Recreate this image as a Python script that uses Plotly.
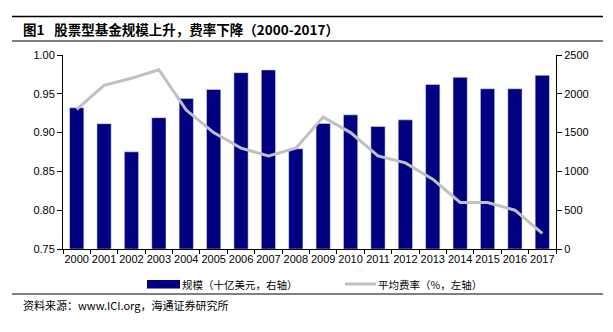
import plotly.graph_objects as go

years = [str(y) for y in range(2000, 2018)]
scale_bn = [1820, 1615, 1252, 1692, 1938, 2055, 2272, 2308, 1292, 1617, 1729, 1578, 1664, 2121, 2212, 2065, 2065, 2238]
fee_pct = [0.930, 0.961, 0.970, 0.981, 0.929, 0.900, 0.880, 0.870, 0.880, 0.920, 0.900, 0.870, 0.861, 0.840, 0.810, 0.810, 0.800, 0.770]
left_ticks = [0.75, 0.80, 0.85, 0.90, 0.95, 1.00]
right_ticks = [0, 500, 1000, 1500, 2000, 2500]

title_text = "图1\u2002 股票型基金规模上升，费率下降（2000-2017）"
bar_name = "规模（十亿美元，右轴）"
line_name = "平均费率（%，左轴）"
source_text = "资料来源：www.ICI.org，海通证券研究所"

W, H = 613, 332
L, R, T, B = 63, 57, 55, 83
pw, ph = W - L - R, H - T - B

def px(x):
    return (x - L) / pw

def py(y):
    return (H - B - y) / ph

BAR_C = "#000080"
LINE_C = "#C0C0C0"
FONT = "Liberation Sans, Noto Sans CJK SC, Arial, sans-serif"
CJK = "Noto Sans CJK SC, Liberation Sans, sans-serif"

fig = go.Figure()
fig.add_trace(go.Bar(x=years, y=scale_bn, marker_color=BAR_C, width=0.52, yaxis="y", showlegend=False))
fig.add_trace(go.Scatter(x=years, y=fee_pct, mode="lines", line=dict(color=LINE_C, width=3), yaxis="y2", showlegend=False))

fig.update_layout(
    width=W, height=H,
    margin=dict(l=L, r=R, t=T, b=B),
    paper_bgcolor="white", plot_bgcolor="white",
    font=dict(family=FONT, size=11, color="black"),
    xaxis=dict(type="category", showline=True, linecolor="black", linewidth=1,
               ticks="outside", ticklen=4, tickson="boundaries", tickcolor="black",
               showgrid=False, tickfont=dict(size=11), tickangle=0, range=[-0.5, 17.5]),
    yaxis=dict(side="right", range=[0, 2500], tickvals=right_ticks, showline=True,
               linecolor="black", linewidth=1, ticks="outside", ticklen=5, tickcolor="black",
               showgrid=False, zeroline=False, tickfont=dict(size=11)),
    yaxis2=dict(side="left", overlaying="y", range=[0.75, 1.00], tickvals=left_ticks,
                tickformat=".2f", showline=True, linecolor="black", linewidth=1,
                ticks="outside", ticklen=5, tickcolor="black", showgrid=False,
                zeroline=False, tickfont=dict(size=11)),
    bargap=0.48,
)

shapes = [
    dict(type="line", xref="paper", yref="paper", x0=px(12), x1=px(603), y0=py(16.5), y1=py(16.5), line=dict(color="black", width=1.5)),
    dict(type="line", xref="paper", yref="paper", x0=px(12), x1=px(603), y0=py(41), y1=py(41), line=dict(color="black", width=1)),
    dict(type="line", xref="paper", yref="paper", x0=px(12), x1=px(603), y0=py(294), y1=py(294), line=dict(color="black", width=1)),
    dict(type="rect", xref="paper", yref="paper", x0=px(147), x1=px(180), y0=py(288.5), y1=py(280), fillcolor=BAR_C, line=dict(width=0)),
    dict(type="line", xref="paper", yref="paper", x0=px(345), x1=px(376), y0=py(284), y1=py(284), line=dict(color=LINE_C, width=3)),
]
fig.update_layout(shapes=shapes)

anns = [
    dict(text="<b>" + title_text + "</b>", x=px(21), y=py(29), xanchor="left", yanchor="middle",
         font=dict(family=CJK, size=13.5, color="black")),
    dict(text=bar_name, x=px(180), y=py(284), xanchor="left", yanchor="middle",
         font=dict(family=CJK, size=10.5, color="black")),
    dict(text=line_name, x=px(376), y=py(284), xanchor="left", yanchor="middle",
         font=dict(family=CJK, size=10.5, color="black")),
    dict(text=source_text, x=px(21), y=py(305), xanchor="left", yanchor="middle",
         font=dict(family=CJK, size=11, color="black")),
]
for a in anns:
    a.update(xref="paper", yref="paper", showarrow=False)
fig.update_layout(annotations=anns)

fig.write_html("out.html")
